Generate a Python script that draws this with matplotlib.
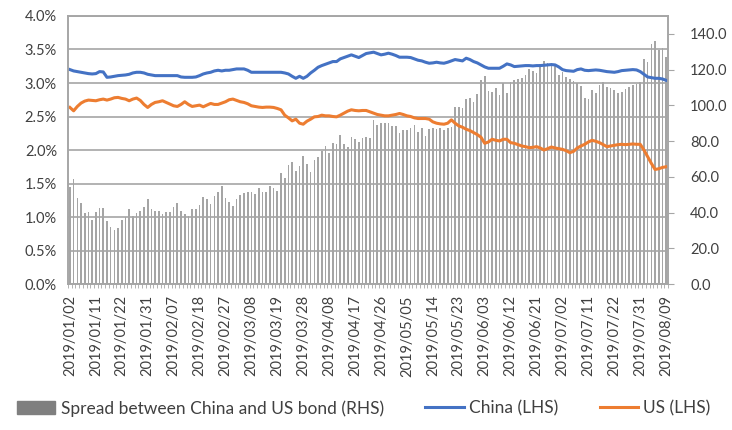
import numpy as np
import matplotlib
matplotlib.use("Agg")
import matplotlib.pyplot as plt
from matplotlib.ticker import FuncFormatter, MultipleLocator

# tick labels (every 7th observation)
date_labels = ["2019/01/02", "2019/01/11", "2019/01/22", "2019/01/31", "2019/02/07",
               "2019/02/18", "2019/02/27", "2019/03/08", "2019/03/19", "2019/03/28",
               "2019/04/08", "2019/04/17", "2019/04/26", "2019/05/05", "2019/05/14",
               "2019/05/23", "2019/06/03", "2019/06/12", "2019/06/21", "2019/07/02",
               "2019/07/11", "2019/07/22", "2019/07/31", "2019/08/09"]

# China 10y yield (%, LHS)
china = [3.20, 3.18, 3.17, 3.16, 3.15, 3.14, 3.135, 3.14, 3.17, 3.165,
         3.085, 3.09, 3.10, 3.11, 3.115, 3.12, 3.13, 3.15, 3.16, 3.16,
         3.15, 3.13, 3.12, 3.11, 3.11, 3.11, 3.11, 3.11, 3.11, 3.11,
         3.09, 3.085, 3.085, 3.085, 3.09, 3.11, 3.135, 3.15, 3.16, 3.18,
         3.19, 3.18, 3.19, 3.19, 3.20, 3.21, 3.21, 3.21, 3.19, 3.16,
         3.16, 3.16, 3.16, 3.16, 3.16, 3.16, 3.16, 3.16, 3.15, 3.135,
         3.10, 3.07, 3.10, 3.07, 3.10, 3.15, 3.19, 3.235, 3.26, 3.28,
         3.30, 3.32, 3.32, 3.36, 3.38, 3.40, 3.42, 3.40, 3.38, 3.41,
         3.44, 3.45, 3.46, 3.44, 3.42, 3.43, 3.445, 3.43, 3.41, 3.385,
         3.385, 3.385, 3.38, 3.36, 3.34, 3.33, 3.31, 3.295, 3.30, 3.31,
         3.30, 3.295, 3.31, 3.33, 3.35, 3.34, 3.33, 3.37, 3.35, 3.32,
         3.30, 3.27, 3.24, 3.22, 3.22, 3.22, 3.22, 3.25, 3.285, 3.27,
         3.245, 3.25, 3.255, 3.26, 3.26, 3.255, 3.26, 3.26, 3.265, 3.27,
         3.275, 3.27, 3.24, 3.20, 3.185, 3.18, 3.175, 3.20, 3.21, 3.19,
         3.185, 3.19, 3.195, 3.19, 3.18, 3.17, 3.165, 3.16, 3.17, 3.185,
         3.19, 3.195, 3.20, 3.195, 3.17, 3.13, 3.09, 3.08, 3.07, 3.07,
         3.06, 3.04]

# US 10y yield (%, LHS)
us = [2.635, 2.585, 2.65, 2.70, 2.73, 2.745, 2.74, 2.735, 2.75, 2.76,
      2.745, 2.76, 2.78, 2.785, 2.77, 2.76, 2.735, 2.76, 2.775, 2.74,
      2.68, 2.635, 2.68, 2.71, 2.72, 2.735, 2.71, 2.685, 2.66, 2.65,
      2.68, 2.72, 2.68, 2.65, 2.66, 2.67, 2.645, 2.67, 2.695, 2.68,
      2.68, 2.70, 2.72, 2.75, 2.76, 2.74, 2.72, 2.71, 2.69, 2.66,
      2.65, 2.64, 2.635, 2.64, 2.64, 2.635, 2.62, 2.60, 2.52, 2.48,
      2.435, 2.46, 2.40, 2.385, 2.43, 2.46, 2.495, 2.50, 2.52, 2.51,
      2.51, 2.50, 2.495, 2.52, 2.55, 2.58, 2.60, 2.59, 2.585, 2.59,
      2.59, 2.57, 2.55, 2.53, 2.52, 2.51, 2.51, 2.52, 2.53, 2.545,
      2.53, 2.51, 2.50, 2.48, 2.47, 2.47, 2.47, 2.46, 2.42, 2.40,
      2.39, 2.385, 2.40, 2.45, 2.40, 2.36, 2.34, 2.31, 2.29, 2.26,
      2.23, 2.19, 2.10, 2.12, 2.16, 2.145, 2.135, 2.16, 2.16, 2.11,
      2.10, 2.08, 2.06, 2.05, 2.035, 2.04, 2.05, 2.03, 2.00, 2.02,
      2.045, 2.03, 2.02, 2.01, 1.99, 1.96, 1.98, 2.03, 2.06, 2.085,
      2.12, 2.145, 2.13, 2.11, 2.08, 2.05, 2.06, 2.07, 2.08, 2.085,
      2.08, 2.085, 2.09, 2.085, 2.085, 2.00, 1.90, 1.80, 1.71, 1.72,
      1.74, 1.75]

# spread in bp (RHS)
spread = [54.5, 58.6, 48.3, 45.1, 39.6, 40.1, 35.8, 40.1, 42.7, 42.7,
          35.3, 32.1, 30.2, 31.2, 35.8, 37.7, 41.8, 38.1, 39.6, 41.0,
          43.3, 47.6, 41.8, 41.0, 40.9, 39.2, 40.1, 40.5, 43.3, 45.5,
          41.0, 39.0, 38.1, 41.8, 41.8, 44.2, 48.9, 47.6, 44.6, 49.3,
          51.5, 55.0, 48.3, 46.1, 43.7, 47.4, 49.8, 50.7, 51.3, 51.7,
          50.2, 53.9, 51.3, 51.3, 54.9, 53.5, 52.2, 61.9, 59.1, 66.6,
          68.5, 63.4, 66.2, 71.6, 67.2, 62.9, 69.4, 71.3, 74.4, 77.2,
          73.1, 79.1, 78.4, 83.4, 78.2, 76.9, 82.5, 81.0, 79.7, 81.5,
          82.5, 81.5, 91.8, 89.0, 89.9, 89.9, 89.9, 88.4, 88.4, 84.3,
          86.2, 86.2, 87.5, 89.0, 85.3, 87.1, 83.0, 86.6, 87.1, 86.6,
          87.1, 86.2, 87.1, 87.7, 98.9, 99.3, 98.3, 103.4, 103.9, 102.1,
          106.3, 114.2, 116.4, 108.2, 107.5, 109.5, 105.8, 112.3, 107.1, 113.2,
          114.2, 114.8, 115.1, 117.0, 120.2, 119.4, 117.9, 123.0, 125.0, 123.5,
          123.9, 122.6, 117.0, 118.8, 116.0, 114.6, 113.6, 112.7, 110.8, 103.9,
          103.4, 108.6, 107.1, 111.4, 113.2, 110.4, 109.5, 108.6, 106.7, 107.6,
          109.0, 110.4, 111.4, 111.9, 113.2, 125.8, 124.4, 134.3, 136.0, 131.0,
          131.9, 127.2]

plt.rcParams['font.family'] = ['Lato', 'DejaVu Sans']
txt_col = '#404040'
grid_col = '#a6a6a6'

x = np.arange(len(china))

fig = plt.figure(figsize=(7.32, 4.30), dpi=100)
ax = fig.add_axes([0.093, 0.3395, 0.8196, 0.6233])
ax2 = ax.twinx()

# bars on the right axis, lines on top
ax2.bar(x, spread, width=0.45, color='#a5a5a5', label='Spread between China and US bond (RHS)')
ax.plot(x, china, color='#4472C4', lw=2.2, label='China (LHS)')
ax.plot(x, us, color='#ED7D31', lw=2.2, label='US (LHS)')
ax.set_zorder(ax2.get_zorder() + 1)
ax.patch.set_visible(False)

ax.set_xlim(-0.5, len(x) - 0.5)
ax.set_ylim(0, 4)
ax.yaxis.set_major_locator(MultipleLocator(0.5))
ax.yaxis.set_major_formatter(FuncFormatter(lambda v, p: f"{v:.1f}%"))
ax.grid(axis='y', color=grid_col, lw=1.2)
ax.tick_params(axis='y', length=0, labelsize=10.5, labelcolor=txt_col, pad=8)

ax2.set_ylim(0, 150)
ax2.set_yticks(np.arange(0, 141, 20))
ax2.yaxis.set_major_formatter(FuncFormatter(lambda v, p: f"{v:.1f}"))
ax2.tick_params(axis='y', length=4, color=grid_col, labelsize=10.5, labelcolor=txt_col, pad=12)

ax.set_xticks(x[::7])
ax.set_xticklabels(date_labels, rotation=90)
ax.set_xticks(np.arange(-0.5, len(x), 1), minor=True)
ax.tick_params(axis='x', which='major', length=0, labelsize=10.5, labelcolor=txt_col, pad=8)
ax.tick_params(axis='x', which='minor', length=3, color=grid_col)

for a in (ax, ax2):
    for s in a.spines.values():
        s.set_color(grid_col)
        s.set_linewidth(1.2)

h1, l1 = ax2.get_legend_handles_labels()
h2, l2 = ax.get_legend_handles_labels()
leg = fig.legend(h1 + h2, l1 + l2, loc='lower center', bbox_to_anchor=(0.497, -0.005), ncol=3,
                 frameon=False, fontsize=12.5, handlelength=2.2, handletextpad=0.3,
                 columnspacing=2.4, labelcolor=txt_col)
leg.legend_handles[0].set_color('#7f7f7f')

fig.savefig('out.png', dpi=100)
